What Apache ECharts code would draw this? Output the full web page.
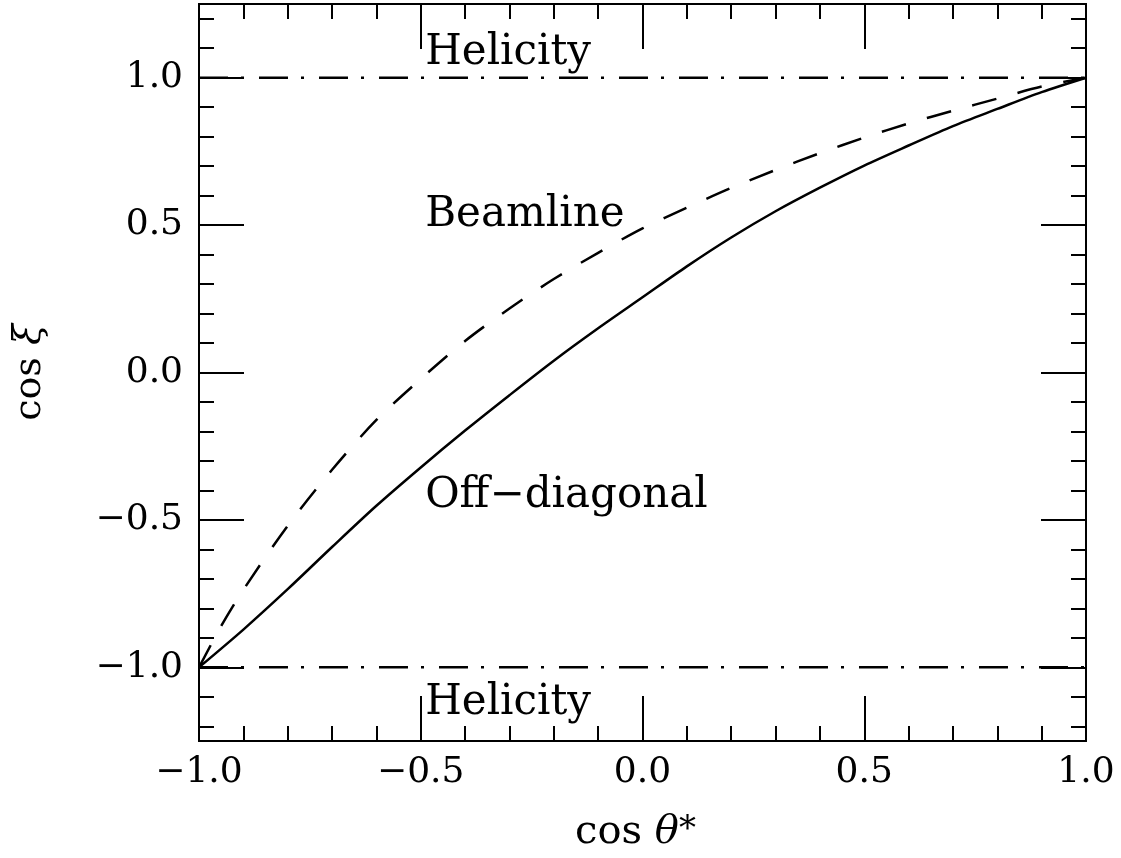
<!DOCTYPE html>
<html>
<head>
<meta charset="utf-8">
<script src="https://cdn.jsdelivr.net/npm/echarts@6/dist/echarts.min.js"></script>
<style>html,body{margin:0;padding:0;background:#fff;}#c{width:1121px;height:858px;}</style>
</head>
<body>
<div id="c"></div>
<script>
// ---- data ----
const cosTheta = [-1.0,-0.9,-0.8,-0.7,-0.6,-0.5,-0.4,-0.3,-0.2,-0.1,0.0,0.1,0.2,0.3,0.4,0.5,0.6,0.7,0.8,0.9,1.0];
const offDiagonal = [-1.0,-0.872,-0.735,-0.592,-0.452,-0.322,-0.197,-0.077,0.04,0.15,0.255,0.36,0.458,0.547,0.627,0.702,0.77,0.836,0.894,0.951,1.0];
const cosThetaBeam = [-1.0,-0.95,-0.9,-0.8,-0.7,-0.6,-0.5,-0.4,-0.3,-0.2,-0.1,0.0,0.1,0.2,0.3,0.4,0.5,0.6,0.7,0.8,0.9,1.0];
const beamline = [-1.0,-0.86,-0.737,-0.52,-0.33,-0.161,-0.022,0.107,0.217,0.317,0.406,0.489,0.559,0.626,0.687,0.744,0.797,0.845,0.888,0.929,0.97,1.0];
const helicityX = [-1.0, 1.0];
const helicityTop = [1.0, 1.0];
const helicityBottom = [-1.0, -1.0];
const yMajorTicks = [-1.0,-0.5,0.0,0.5,1.0];
const yMinorTicks = [-1.2,-1.1,-0.9,-0.8,-0.7,-0.6,-0.4,-0.3,-0.2,-0.1,0.1,0.2,0.3,0.4,0.6,0.7,0.8,0.9,1.1,1.2];
const labelTexts = ['Helicity','Helicity','Beamline','Off\u2212diagonal'];
const labelX = [-0.49,-0.49,-0.49,-0.49];
const labelY = [1.085,-1.12,0.535,-0.42];

// ---- chart ----
const FONT = 'DejaVu Serif';
const black = '#000';
const fmt = v => (v < 0 ? '\u2212' : '') + Math.abs(v).toFixed(1);
const zip = (a, b) => a.map((x, i) => [x, b[i]]);

const xBase = (pos, showLabel) => ({
  type: 'value', min: -1, max: 1, interval: 0.5, position: pos,
  axisLine: { show: true, onZero: false, lineStyle: { color: black, width: 2 } },
  axisTick: { show: true, inside: true, length: 45, lineStyle: { color: black, width: 2 } },
  minorTick: { show: true, splitNumber: 5, length: 15, lineStyle: { color: black, width: 2 } },
  splitLine: { show: false }, minorSplitLine: { show: false },
  axisLabel: { show: showLabel, formatter: fmt, color: black, fontFamily: FONT, fontSize: 36, margin: 14 }
});
const yBase = (pos, ticks, len, showLabel) => ({
  type: 'value', min: -1.25, max: 1.25, position: pos, offset: 0,
  axisLine: { show: true, onZero: false, lineStyle: { color: black, width: 2 } },
  axisTick: { show: true, inside: true, length: len, customValues: ticks, lineStyle: { color: black, width: 2 } },
  splitLine: { show: false },
  axisLabel: { show: showLabel, customValues: yMajorTicks, formatter: fmt, color: black, fontFamily: FONT, fontSize: 36, margin: 16 }
});

const xBottom = xBase('bottom', true);
xBottom.name = '{a|cos }{b|\u03b8}{c|*}';
xBottom.nameLocation = 'middle';
xBottom.nameGap = 72;
xBottom.nameTextStyle = {
  padding: [0, 14, 0, 0],
  rich: {
    a: { fontFamily: FONT, fontSize: 40, color: black },
    b: { fontFamily: FONT, fontSize: 40, fontStyle: 'italic', color: black },
    c: { fontFamily: FONT, fontSize: 34, color: black, verticalAlign: 'top' }
  }
};
const yLeft = yBase('left', yMajorTicks, 45, true);
yLeft.name = '{a|cos }{b|\u03be}';
yLeft.nameLocation = 'middle';
yLeft.nameRotate = 90;
yLeft.nameGap = 150;
yLeft.nameTextStyle = {
  rich: {
    a: { fontFamily: FONT, fontSize: 38, color: black },
    b: { fontFamily: FONT, fontSize: 38, fontStyle: 'italic', color: black }
  }
};

const lineSeries = (xs, ys, type) => ({
  type: 'line', data: zip(xs, ys), xAxisIndex: 0, yAxisIndex: 0,
  symbol: 'none', smooth: 0.3, silent: true,
  lineStyle: { color: black, width: 2.5, type: type, opacity: 1 }
});

const option = {
  animation: false,
  backgroundColor: '#fff',
  grid: { left: 199, right: 35, top: 4, bottom: 115, containLabel: false },
  xAxis: [xBottom, xBase('top', false)],
  yAxis: [
    yLeft,
    yBase('left', yMinorTicks, 15, false),
    yBase('right', yMajorTicks, 45, false),
    yBase('right', yMinorTicks, 15, false)
  ],
  series: [
    lineSeries(cosTheta, offDiagonal, 'solid'),
    lineSeries(cosThetaBeam, beamline, [25, 22]),
    Object.assign(lineSeries(helicityX, helicityTop, [29, 13, 3, 15]), { smooth: false }),
    Object.assign(lineSeries(helicityX, helicityBottom, [29, 13, 3, 15]), { smooth: false }),
    {
      type: 'scatter', symbolSize: 0, silent: true,
      itemStyle: { opacity: 1 },
      data: labelTexts.map((t, i) => [labelX[i], labelY[i], t]),
      label: {
        show: true, position: 'right', distance: 0, opacity: 1,
        formatter: p => p.data[2],
        color: black, fontFamily: FONT, fontSize: 42
      }
    }
  ]
};
const chart = echarts.init(document.getElementById('c'), null, { renderer: 'canvas' });
chart.setOption(option);
</script>
</body>
</html>
